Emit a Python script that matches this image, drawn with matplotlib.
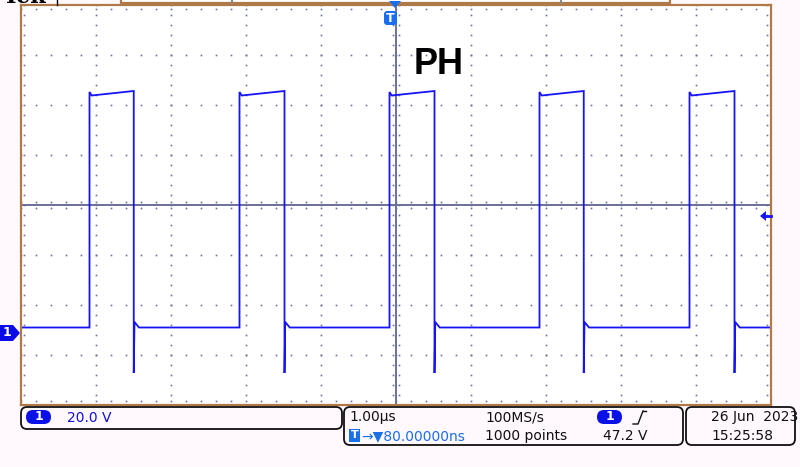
import numpy as np
import matplotlib.pyplot as plt
from matplotlib.patches import FancyBboxPatch, Polygon, Rectangle

# waveform (time in us, level in V)
rise_us = [-4.00, -2.00, 0.00, 2.00, 4.00]
fall_us = [-3.41, -1.40, 0.60, 2.59, 4.60]
low_v = 2.2
rise_peak_v = 96.4
top_start_v = 95.0
top_end_v = 96.8
spike_v = -16.0
bounce_v = 4.4

# scope settings
us_per_div = 1.00
v_per_div = 20.0
trig_offset_us = 0.08
center_v = 51.2
trig_level_v = 47.2
label = "PH"

W, H = 800, 467
BROWN = "#b07a48"
GRID = "#6b7099"
TRACE = "#1414f5"
BG = "#fff8fd"

t0 = trig_offset_us - 5 * us_per_div
t1 = trig_offset_us + 5 * us_per_div
v0 = center_v - 4 * v_per_div
v1 = center_v + 4 * v_per_div

# build the step trace from the edges
t = [t0]
v = [low_v]
for r, f in zip(rise_us, fall_us):
    t += [r, r, r + 0.03, f, f, f + 0.01, f + 0.07]
    v += [low_v, rise_peak_v, top_start_v, top_end_v, spike_v, bounce_v, low_v]
t.append(t1)
v.append(low_v)

fig = plt.figure(figsize=(W / 100, H / 100), dpi=100)
fig.patch.set_facecolor(BG)

ax = fig.add_axes([20.5 / W, (H - 405) / H, 750 / W, 400 / H])
ax.set_facecolor("white")
ax.set_xlim(t0, t1)
ax.set_ylim(v0, v1)
ax.set_xticks([])
ax.set_yticks([])
for s in ax.spines.values():
    s.set_color(BROWN)
    s.set_linewidth(1.6)


def dots(x, y):
    ax.plot(x, y, ls="none", marker="s", ms=1.2, mew=0, color=GRID)


# dotted graticule
xs_major = t0 + np.arange(1, 10) * us_per_div
ys_major = v0 + np.arange(1, 8) * v_per_div
xs_minor = t0 + np.arange(0, 51) * us_per_div / 5
ys_minor = v0 + np.arange(0, 41) * v_per_div / 5
for x in xs_major:
    if abs(x - trig_offset_us) > 1e-6:
        dots(np.full_like(ys_minor, x), ys_minor)
for y in ys_major:
    if abs(y - center_v) > 1e-6:
        dots(xs_minor, np.full_like(xs_minor, y))

# centre cross with tick dots
ax.axvline(trig_offset_us, color=GRID, lw=1.4)
ax.axhline(center_v, color=GRID, lw=1.4)
dv = 1.2
dt = 0.04
for off in (-dv, dv):
    dots(xs_minor, np.full_like(xs_minor, center_v + off))
for off in (-dt, dt):
    dots(np.full_like(ys_minor, trig_offset_us + off), ys_minor)
# edge tick dots, just inside the frame
for yy in (v1 - dv * 1.2, v0 + dv * 1.2):
    dots(xs_minor, np.full_like(xs_minor, yy))
for xx in (t0 + dt * 1.2, t1 - dt * 1.2):
    dots(np.full_like(ys_minor, xx), ys_minor)

ax.plot(t, v, color=TRACE, lw=1.3, solid_joinstyle="miter")

ax.text(0.653, 107.6, label, fontsize=26, fontweight="bold",
        family="Liberation Sans", ha="center", va="center", color="black")

# overlay for the scope decorations, in pixel units
ov = fig.add_axes([0, 0, 1, 1], facecolor="none")
ov.set_xlim(0, W)
ov.set_ylim(H, 0)
ov.axis("off")

# top record bar and logo
ov.add_patch(Rectangle((121, -2), 549, 5, fc="white", ec=BROWN, lw=1.6))
ov.plot([232, 232], [0, 3], color="#888", lw=1.5)
ov.plot([561, 561], [0, 3], color="#888", lw=1.5)
ov.plot([57, 57], [0, 5], color="black", lw=1)
ov.text(3, 3, "Tek", fontsize=16, fontweight="bold", family="DejaVu Serif",
        va="baseline", ha="left", color="black")

# trigger position marker
ov.add_patch(Polygon([[389, 1], [401, 1], [395, 8]], closed=True, fc="#1a6cf0", ec="none"))
ov.add_patch(FancyBboxPatch((384, 11), 13, 14, boxstyle="round,pad=0,rounding_size=3",
                            fc="#1a6cf0", ec="none"))
ov.text(390.5, 18, "T", color="white", fontsize=9, fontweight="bold",
        ha="center", va="center")

# channel 1 ground marker
ov.add_patch(Polygon([[0, 325], [13, 325], [20, 333], [13, 341], [0, 341]],
                     closed=True, fc="#0a0ae8", ec="none"))
ov.text(7, 333, "1", color="white", fontsize=9, fontweight="bold",
        ha="center", va="center")

# trigger level arrow
ov.add_patch(Polygon([[760, 216], [766, 211], [766, 221]], closed=True,
                     fc="#1414f5", ec="none"))
ov.plot([765, 771], [216, 216], color="#1414f5", lw=2)

# status bar
for x, y, w, h in [(21, 407, 321, 22), (344, 407, 339, 38), (686, 407, 109, 38)]:
    ov.add_patch(FancyBboxPatch((x, y), w, h, boxstyle="round,pad=0,rounding_size=6",
                                fc="none", ec="#111", lw=1.3))


def chan_badge(x, y):
    ov.add_patch(FancyBboxPatch((x, y - 7), 25, 14,
                                boxstyle="round,pad=0,rounding_size=7",
                                fc="#0a10e8", ec="none"))
    ov.text(x + 12.5, y, "1", color="white", fontsize=9, fontweight="bold",
            ha="center", va="center")


chan_badge(26, 417)
ov.text(67, 417.5, "20.0 V", color="#1010e0", fontsize=10, va="center")

ov.text(349, 417.5, "1.00µs", color="#111", fontsize=10, va="center")
ov.text(485, 417.5, "100MS/s", color="#111", fontsize=10, va="center")
chan_badge(597, 417)
ov.plot([633, 638, 643], [424, 424, 411], color="#111", lw=1)
ov.plot([643, 646], [411, 411], color="#111", lw=1)
ov.text(603, 436, "47.2 V", color="#111", fontsize=10, va="center")

ov.add_patch(Rectangle((349, 429), 11, 13, fc="#1a70e8", ec="none"))
ov.text(354.5, 435.5, "T", color="white", fontsize=8, fontweight="bold",
        ha="center", va="center")
ov.text(361, 436, "→▼80.00000ns", color="#1a70e8", fontsize=10, va="center")
ov.text(485, 436, "1000 points", color="#111", fontsize=10, va="center")

ov.text(711, 417.5, "26 Jun  2023", color="#111", fontsize=10, va="center")
ov.text(711, 436, "15:25:58", color="#111", fontsize=10, va="center")

fig.savefig("out.png", dpi=100, facecolor=fig.get_facecolor())
